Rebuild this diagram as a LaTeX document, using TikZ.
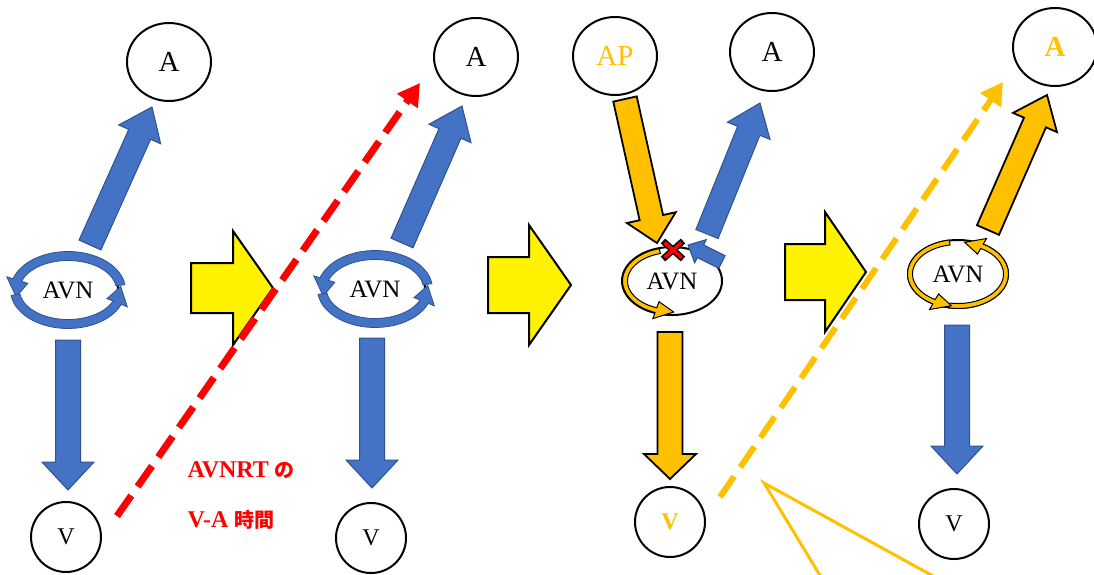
\documentclass[tikz,border=0pt]{standalone}
\usepackage{fontspec}
\setmainfont{Liberation Serif}
\newfontfamily\jpfont{Noto Sans CJK JP}
\usetikzlibrary{arrows.meta, positioning, shapes.geometric, calc}
\definecolor{avblue}{HTML}{4472C4}
\definecolor{avblueedge}{HTML}{2F528F}
\definecolor{apgold}{HTML}{FFC000}
\tikzset{%
	site/.style={draw, ellipse, line width=2pt, inner sep=0pt, minimum width=84, minimum height=78,%
		font=\fontsize{29}{31}\selectfont},
	vsite/.style={site, minimum width=70, minimum height=70, font=\fontsize{24}{26}\selectfont},
	avn/.style={draw, ellipse, line width=2pt, inner sep=0pt, minimum width=100, minimum height=68,%
		font=\fontsize{25}{27}\selectfont},
	conduct/.style={fill=avblue, draw=avblueedge, line width=1pt},
	bypass/.style={fill=apgold, draw=black, line width=1.8pt},
	nextbox/.style={fill=yellow, draw=black, line width=2pt},
	reentry/.style={fill=avblue, draw=avblueedge, line width=0.8pt},
	reentrygold/.style={fill=apgold, draw=black, line width=1pt},
	vatime/.style={line width=7pt, dash pattern=on 25pt off 11pt, -{Triangle[width=24pt,length=22pt]}},
	gold/.style={text=apgold},
	label/.style={anchor=west, text=red, font=\bfseries\fontsize{24}{26}\selectfont}
}
% straight block arrow: [style]{from}{to}{half shaft}{half head}{head length}
\newcommand{\blockarrow}[6][]{%
	\draw[#1] let \p1=($(#3)-(#2)$), \n1={atan2(\y1,\x1)}, \n2={veclen(\x1,\y1)} in
		[shift={(#2)}, rotate=\n1]
		(0,-#4) -- ({\n2-#6},-#4) -- ({\n2-#6},-#5) -- (\n2,0)
		-- ({\n2-#6},#5) -- ({\n2-#6},#4) -- (0,#4) -- cycle;
}
% curved arrow on an ellipse: [style]{centre}{rx}{ry}{start}{head base}{tip}{half band}{half head}
\newcommand{\ringarrow}[9][]{%
	\pgfmathsetmacro{\ringox}{#3+#8}\pgfmathsetmacro{\ringoy}{#4+#8}%
	\pgfmathsetmacro{\ringix}{#3-#8}\pgfmathsetmacro{\ringiy}{#4-#8}%
	\pgfmathsetmacro{\ringhx}{#3+#9}\pgfmathsetmacro{\ringhy}{#4+#9}%
	\pgfmathsetmacro{\ringjx}{#3-#9}\pgfmathsetmacro{\ringjy}{#4-#9}%
	\draw[#1] ($(#2)+({cos(#5)*\ringox},{sin(#5)*\ringoy})$)
		arc[start angle=#5, end angle=#6, x radius=\ringox, y radius=\ringoy]
		-- ($(#2)+({cos(#6)*\ringhx},{sin(#6)*\ringhy})$)
		-- ($(#2)+({cos(#7)*#3},{sin(#7)*#4})$)
		-- ($(#2)+({cos(#6)*\ringjx},{sin(#6)*\ringjy})$)
		-- ($(#2)+({cos(#6)*\ringix},{sin(#6)*\ringiy})$)
		arc[start angle=#6, end angle=#5, x radius=\ringix, y radius=\ringiy] -- cycle;
}

\begin{document}
\begin{tikzpicture}[x=1pt, y=-1pt]
	\useasboundingbox (0,0) rectangle (1094,574);
	\clip (0,0) rectangle (1094,574);

	% first beat
	\node[site] (a1) at (169,62) {A};
	\node[avn] (n1) at (68,290) {AVN};
	\node[vsite] (v1) at (66,537) {V};
	\ringarrow[reentry]{n1}{53}{34}{-8}{-163}{-192}{4.5}{11}
	\ringarrow[reentry]{n1}{53}{34}{172}{22}{-6}{4.5}{11}
	\coordinate (n1top) at (90,245);
	\coordinate (a1in) at (152,107);
	\coordinate (n1bot) at (68,340);
	\coordinate (v1in) at (68,490);
	\blockarrow[conduct]{n1top}{a1in}{12}{23}{30}
	\blockarrow[conduct]{n1bot}{v1in}{12.5}{26}{28}

	\coordinate (go1s) at (191,288);
	\coordinate (go1t) at (273,288);
	\blockarrow[nextbox]{go1s}{go1t}{25}{57}{40}

	% second beat
	\node[site] (a2) at (476,57) {A};
	\node[avn] (n2) at (375,289) {AVN};
	\node[vsite] (v2) at (371,538) {V};
	\ringarrow[reentry]{n2}{53}{34}{-8}{-163}{-192}{4.5}{11}
	\ringarrow[reentry]{n2}{53}{34}{172}{22}{-6}{4.5}{11}
	\coordinate (n2top) at (402,243);
	\coordinate (a2in) at (462,106);
	\coordinate (n2bot) at (372,338);
	\coordinate (v2in) at (372,488);
	\blockarrow[conduct]{n2top}{a2in}{12}{23}{30}
	\blockarrow[conduct]{n2bot}{v2in}{12.5}{26}{28}

	% V-A interval
	\coordinate (va1s) at (117,516);
	\coordinate (va1t) at (420,83);
	\draw[vatime, red] (va1s) -- (va1t);
	\node[label] (lbl1) at (184,470)
		{AVNRT {\jpfont\bfseries\fontsize{20}{22}\selectfont の}};
	\node[label] (lbl2) at (184,520)
		{V-A {\jpfont\bfseries\fontsize{20}{22}\selectfont 時間}};

	\coordinate (go2s) at (488,285);
	\coordinate (go2t) at (571,285);
	\blockarrow[nextbox]{go2s}{go2t}{28}{60}{42}

	% premature atrial beat
	\node[site, gold] (ap) at (615,56) {AP};
	\node[site] (a3) at (772,52) {A};
	\node[avn] (n3) at (672,281) {AVN};
	\ringarrow[reentrygold]{n3}{47}{31}{-105}{-250}{-272}{2.5}{9}
	\coordinate (apout) at (625,99);
	\coordinate (n3in) at (657,243);
	\blockarrow[bypass]{apout}{n3in}{12}{25}{26}
	\coordinate (n3top) at (707,234);
	\coordinate (a3in) at (760,103);
	\blockarrow[conduct]{n3top}{a3in}{12}{23}{30}
	\coordinate (back) at (722,262);
	\coordinate (backin) at (688,245);
	\blockarrow[conduct]{back}{backin}{7}{13}{14}
	\coordinate (block) at (673,250);
	\draw[line width=6.5pt] ($(block)+(-10,-9)$) -- ($(block)+(10,9)$);
	\draw[line width=6.5pt] ($(block)+(-10,9)$) -- ($(block)+(10,-9)$);
	\draw[line width=3.5pt, red] ($(block)+(-8.5,-7.5)$) -- ($(block)+(8.5,7.5)$);
	\draw[line width=3.5pt, red] ($(block)+(-8.5,7.5)$) -- ($(block)+(8.5,-7.5)$);
	\node[vsite, gold, font=\bfseries\fontsize{24}{26}\selectfont] (v3) at (670,522) {V};
	\coordinate (n3bot) at (670,332);
	\coordinate (v3in) at (670,479);
	\blockarrow[bypass]{n3bot}{v3in}{12.5}{26}{25}

	\coordinate (go3s) at (785,272);
	\coordinate (go3t) at (866,272);
	\blockarrow[nextbox]{go3s}{go3t}{28}{60}{41}

	% V-A interval after the atrial beat
	\coordinate (va2s) at (720,497);
	\coordinate (va2t) at (1003,82);
	\draw[vatime, apgold, line width=6pt] (va2s) -- (va2t);

	\coordinate (tail) at (764,483);
	\coordinate (taill) at (824,582);
	\coordinate (tailr) at (944,582);
	\draw[apgold, line width=3pt] (taill) -- (tail) -- (tailr);

	% last beat
	\node[site, gold, font=\bfseries\fontsize{29}{31}\selectfont] (a4) at (1055,47) {A};
	\node[avn] (n4) at (958,274) {AVN};
	\node[vsite] (v4) at (954,524) {V};
	\ringarrow[reentrygold]{n4}{48}{32}{100}{-60}{-82}{2.5}{9}
	\ringarrow[reentrygold]{n4}{48}{32}{-100}{-240}{-262}{2.5}{9}
	\coordinate (n4top) at (988,230);
	\coordinate (a4in) at (1047,95);
	\blockarrow[bypass]{n4top}{a4in}{12}{24}{30}
	\coordinate (n4bot) at (957,325);
	\coordinate (v4in) at (957,474);
	\blockarrow[conduct]{n4bot}{v4in}{12.5}{26}{28}
\end{tikzpicture}
\end{document}
